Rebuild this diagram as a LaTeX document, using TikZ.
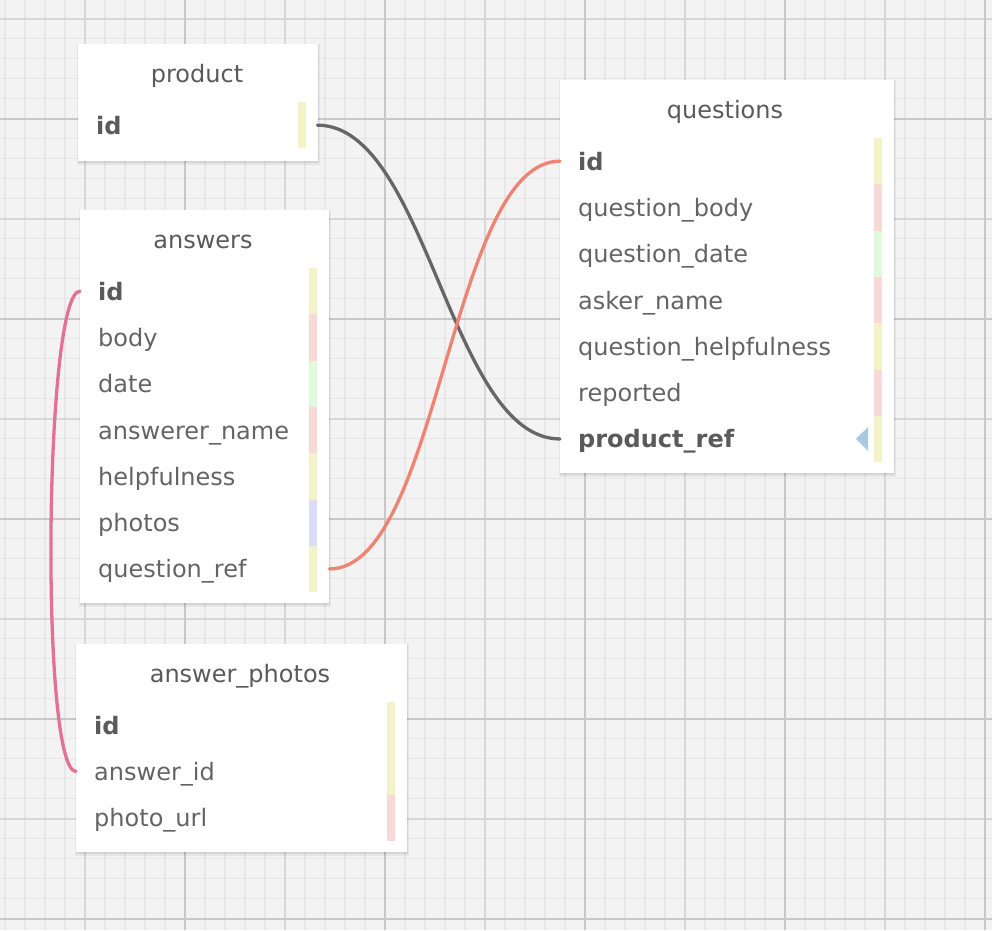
\documentclass[tikz,border=0pt]{standalone}
\usepackage{fontspec}
\setmainfont{DejaVu Sans}
\definecolor{bgc}{HTML}{F3F3F3}
\definecolor{minc}{HTML}{E7E7E7}
\definecolor{majc}{HTML}{D7D7D7}
\definecolor{drkc}{HTML}{C8C8C8}
\definecolor{txt}{HTML}{646464}
\definecolor{ttl}{HTML}{5A5A5A}
\definecolor{yel}{HTML}{F4F2C8}
\definecolor{pnk}{HTML}{F9D8D8}
\definecolor{grn}{HTML}{E0FBDC}
\definecolor{lav}{HTML}{DCDCF8}
\definecolor{blu}{HTML}{A9C8E6}
\definecolor{greyline}{HTML}{666666}
\definecolor{salmon}{HTML}{EE8371}
\definecolor{rosel}{HTML}{E2728F}
\newcommand\rowfnt{\fontsize{24}{28}\selectfont}
\newcommand\erbox[4]{%
  \fill[black,opacity=0.05] (#1-1.5,#2) rectangle (#3+1.5,#4+3.5);
  \fill[black,opacity=0.07] (#1-0.5,#2+0.5) rectangle (#3+0.5,#4+1.5);
  \fill[white] (#1,#2) rectangle (#3,#4);}
\begin{document}
\begin{tikzpicture}[x=1pt,y=-1pt,
  minorl/.style={draw=minc,line width=1.8pt},
  majorl/.style={draw=majc,line width=2pt},
  darkl/.style={draw=drkc,line width=2pt},
  rowst/.style={anchor=west,inner xsep=18pt,inner ysep=0pt,text height=20pt,text depth=2pt,minimum height=46.3pt,align=left,font=\rowfnt,text=txt},
  keyst/.style={rowst,font=\rowfnt\bfseries,text=ttl},
  titlest/.style={anchor=base,inner sep=0pt,font=\rowfnt,text=ttl},
  conn/.style={line width=3.3pt,line cap=round}]
\useasboundingbox (0,0) rectangle (992,930);
\fill[bgc] (0,0) rectangle (992,930);
\foreach \x in {5,25,...,985} \draw[minorl] (\x,0) -- (\x,930);
\foreach \y in {18.5,38.5,...,918.5} \draw[minorl] (0,\y) -- (992,\y);
\foreach \x in {85,185,...,985} \draw[majorl] (\x,0) -- (\x,930);
\foreach \y in {18.5,118.5,...,918.5} \draw[majorl] (0,\y) -- (992,\y);
\foreach \x in {185,385,...,985} \draw[darkl] (\x,0) -- (\x,930);
\foreach \y in {118.5,318.5,...,918.5} \draw[darkl] (0,\y) -- (992,\y);

% product
\erbox{78}{44}{318}{161}
\node[titlest] (p-title) at (197,82) {product};
\fill[yel] (298,102) rectangle (306,148.3);
\node[keyst,text width=203pt] (p-id) at (78,125.15) {id};

% questions
\erbox{560}{80}{894}{473}
\node[titlest] (q-title) at (725,118) {questions};
\fill[yel] (874,138) rectangle (882,184.3);
\fill[pnk] (874,184.3) rectangle (882,230.6);
\fill[grn] (874,230.6) rectangle (882,276.9);
\fill[pnk] (874,276.9) rectangle (882,323.2);
\fill[yel] (874,323.2) rectangle (882,369.5);
\fill[pnk] (874,369.5) rectangle (882,415.8);
\fill[yel] (874,415.8) rectangle (882,462.1);
\node[keyst,text width=298pt] (q-id) at (560,161.15) {id};
\node[rowst,text width=298pt] (q-body) at (560,207.45) {question\_body};
\node[rowst,text width=298pt] (q-date) at (560,253.75) {question\_date};
\node[rowst,text width=298pt] (q-asker) at (560,300.05) {asker\_name};
\node[rowst,text width=298pt] (q-help) at (560,346.35) {question\_helpfulness};
\node[rowst,text width=298pt] (q-rep) at (560,392.65) {reported};
\node[keyst,text width=298pt] (q-pref) at (560,438.95) {product\_ref};
\fill[blu] (856,438.95) -- (868,427) -- (868,451) -- cycle;

% answers
\erbox{80}{210}{329}{603}
\node[titlest] (a-title) at (203,248) {answers};
\fill[yel] (309,268) rectangle (317,314.3);
\fill[pnk] (309,314.3) rectangle (317,360.6);
\fill[grn] (309,360.6) rectangle (317,406.9);
\fill[pnk] (309,406.9) rectangle (317,453.2);
\fill[yel] (309,453.2) rectangle (317,499.5);
\fill[lav] (309,499.5) rectangle (317,545.8);
\fill[yel] (309,545.8) rectangle (317,592.1);
\node[keyst,text width=213pt] (a-id) at (80,291.15) {id};
\node[rowst,text width=213pt] (a-body) at (80,337.45) {body};
\node[rowst,text width=213pt] (a-date) at (80,383.75) {date};
\node[rowst,text width=213pt] (a-name) at (80,430.05) {answerer\_name};
\node[rowst,text width=213pt] (a-help) at (80,476.35) {helpfulness};
\node[rowst,text width=213pt] (a-photos) at (80,522.65) {photos};
\node[rowst,text width=213pt] (a-qref) at (80,568.95) {question\_ref};

% answer_photos
\erbox{76}{644}{407}{852}
\node[titlest] (ap-title) at (240,682) {answer\_photos};
\fill[yel] (387,702) rectangle (395,794.6);
\fill[pnk] (387,794.6) rectangle (395,840.9);
\node[keyst,text width=295pt] (ap-id) at (76,725.15) {id};
\node[rowst,text width=295pt] (ap-aid) at (76,771.45) {answer\_id};
\node[rowst,text width=295pt] (ap-url) at (76,817.75) {photo\_url};

% connectors
\draw[conn,greyline] (p-id.east) .. controls +(110,0) and +(-110,0) .. (q-pref.west);
\draw[conn,salmon] (a-qref.east) .. controls +(110,0) and +(-110,0) .. (q-id.west);
\draw[conn,rosel] (a-id.west) .. controls +(-36,0) and +(-36,0) .. (ap-aid.west);
\end{tikzpicture}
\end{document}
